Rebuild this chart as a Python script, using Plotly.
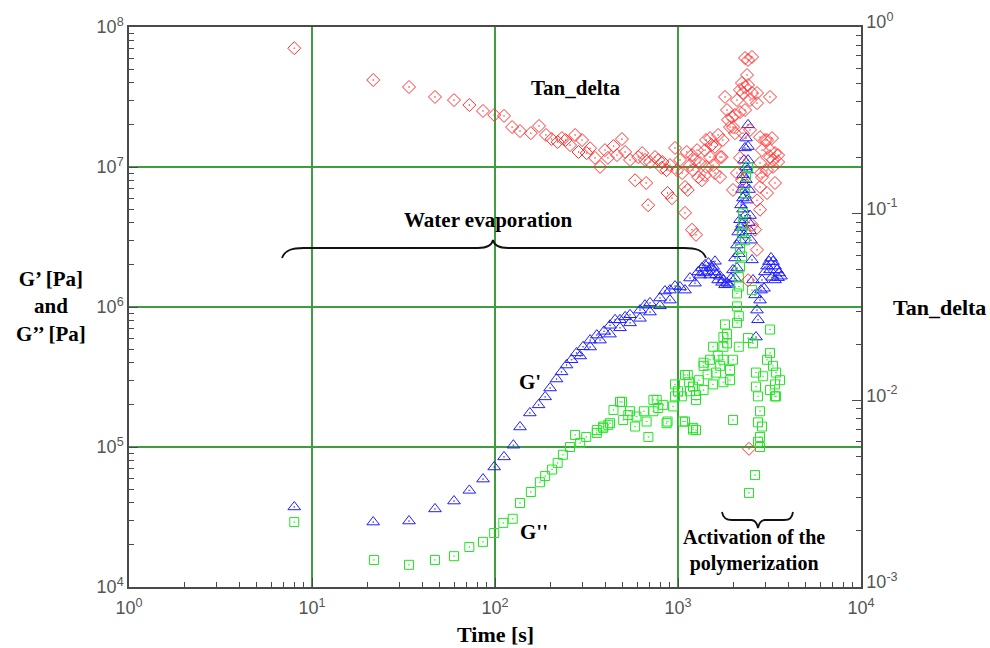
import plotly.graph_objects as go

# ---------------- data ----------------
tan_time = [8.0, 21.6, 33.9, 47, 59.7, 72.4, 86, 99, 112, 124, 137, 157, 174, 190, 204, 220, 232, 243, 257,
            274, 286, 299, 317, 331, 352, 375, 399, 414, 444, 464, 494, 514, 547, 583, 606, 637, 660, 670,
            687, 703, 749, 780, 815, 822, 866, 877, 904, 927, 963, 988, 1026, 1053, 1092, 1092, 1117, 1131,
            1163, 1193, 1193, 1208, 1239, 1254, 1271, 1289, 1319, 1351, 1405, 1405, 1423, 1423, 1496, 1496,
            1525, 1555, 1593, 1593, 1656, 1697, 1697, 1735, 1757, 1807, 1853, 1876, 1924, 1973, 1998, 1998,
            2049, 2049, 2101, 2101, 2182, 2182, 2182, 2237, 2237, 2266, 2266, 2324, 2324, 2324, 2383, 2414,
            2414, 2414, 2444, 2475, 2475, 2538, 2538, 2538, 2636, 2702, 2702, 2702, 2702, 2807, 2807, 2807,
            2807, 2842, 2878, 2878, 2989, 3065, 3065, 3065, 3183, 3183, 3183, 3264, 3305, 3305, 3390, 3390,
            3523, 3523]
tan_delta = [0.77, 0.52, 0.477, 0.422, 0.406, 0.382, 0.355, 0.338, 0.334, 0.291, 0.277, 0.270, 0.295, 0.264,
             0.251, 0.242, 0.254, 0.248, 0.233, 0.264, 0.214, 0.248, 0.211, 0.224, 0.199, 0.178, 0.219, 0.199,
             0.230, 0.206, 0.251, 0.214, 0.194, 0.151, 0.201, 0.211, 0.194, 0.146, 0.111, 0.189, 0.201, 0.194,
             0.176, 0.189, 0.171, 0.129, 0.182, 0.121, 0.225, 0.171, 0.194, 0.165, 0.139, 0.101, 0.214, 0.134,
             0.182, 0.082, 0.206, 0.171, 0.194, 0.077, 0.219, 0.157, 0.187, 0.151, 0.219, 0.161, 0.248, 0.178,
             0.201, 0.254, 0.233, 0.182, 0.228, 0.165, 0.264, 0.201, 0.157, 0.201, 0.248, 0.422, 0.359, 0.318,
             0.291, 0.329, 0.134, 0.291, 0.270, 0.338, 0.406, 0.165, 0.460, 0.199, 0.350, 0.501, 0.151, 0.443,
             0.270, 0.682, 0.359, 0.477, 0.553, 0.489, 0.044, 0.666, 0.0055, 0.406, 0.281, 0.691, 0.443, 0.087,
             0.082, 0.391, 0.118, 0.064, 0.443, 0.257, 0.187, 0.139, 0.105, 0.165, 0.219, 0.157, 0.248, 0.248,
             0.171, 0.129, 0.422, 0.201, 0.219, 0.254, 0.178, 0.194, 0.211, 0.146, 0.189, 0.206]

gp_time = [8.0, 21.6, 33.9, 47, 59.7, 72.4, 86, 99, 112, 126, 137, 155, 173, 188, 200, 217, 231, 246, 262, 279,
           292, 303, 331, 331, 360, 375, 394, 425, 425, 453, 482, 482, 514, 547, 547, 620, 620, 660, 703, 703,
           797, 797, 849, 904, 904, 963, 1026, 1092, 1163, 1239, 1289, 1319, 1351, 1380, 1405, 1450, 1466, 1496,
           1525, 1555, 1593, 1593, 1620, 1656, 1697, 1740, 1771, 1807, 1853, 1900, 1950, 1998, 2049, 2049, 2101,
           2101, 2132, 2150, 2182, 2182, 2209, 2209, 2237, 2237, 2266, 2266, 2266, 2295, 2295, 2295, 2324, 2324,
           2324, 2353, 2353, 2353, 2383, 2383, 2414, 2414, 2414, 2444, 2444, 2475, 2475, 2505, 2538, 2570, 2636,
           2669, 2702, 2736, 2807, 2842, 2878, 2952, 2989, 3065, 3143, 3183, 3224, 3264, 3305, 3390, 3390, 3477,
           3523, 3565, 3655]
gp_value = [3.73e4, 2.91e4, 2.96e4, 3.61e4, 4.11e4, 4.9e4, 5.9e4, 7.2e4, 8.5e4, 1.03e5, 1.39e5, 1.75e5, 2.0e5,
            2.28e5, 2.64e5, 3.06e5, 3.44e5, 3.85e5, 4.2e5, 4.7e5, 4.47e5, 5.2e5, 5.8e5, 5.18e5, 6.3e5, 5.8e5,
            6.7e5, 7.4e5, 6.4e5, 8.1e5, 8.1e5, 7.1e5, 8.5e5, 8.8e5, 7.7e5, 9.5e5, 8.3e5, 1.03e6, 1.07e6, 9.2e5,
            1.16e6, 1.02e6, 1.3e6, 1.32e6, 1.12e6, 1.41e6, 1.39e6, 1.32e6, 1.61e6, 1.48e6, 1.78e6, 1.69e6, 1.9e6,
            1.75e6, 2.0e6, 1.8e6, 2.06e6, 1.69e6, 1.9e6, 1.95e6, 1.78e6, 2.12e6, 1.7e6, 1.56e6, 1.66e6, 1.5e6,
            1.56e6, 1.44e6, 1.48e6, 1.45e6, 1.6e6, 1.84e6, 2.24e6, 1.6e6, 2.77e6, 1.9e6, 3.43e6, 2.4e6, 4.2e6,
            3.0e6, 5.36e6, 3.7e6, 6.9e6, 3.9e6, 8.8e6, 5.0e6, 6.0e6, 1.12e7, 3.27e6, 7.5e6, 1.37e7, 4.5e6, 6.3e6,
            1.61e7, 8.1e6, 1.0e7, 5.8e6, 9.5e6, 2.0e7, 1.12e7, 1.4e7, 6.9e6, 4.0e6, 4.5e6, 3.5e6, 3.0e6, 2.17e6,
            1.56e6, 1.22e6, 6.1e5, 9.5e5, 8.1e5, 1.12e6, 1.32e6, 1.56e6, 1.36e6, 1.78e6, 1.96e6, 2.11e6, 1.84e6,
            2.24e6, 1.63e6, 2.11e6, 1.96e6, 1.56e6, 1.84e6, 1.62e6, 1.75e6, 1.66e6]

gpp_time = [8.0, 21.8, 33.9, 47, 59.7, 72.4, 86, 99, 111, 125, 137, 157, 176, 188, 205, 220, 235, 257, 274, 292,
            315, 360, 360, 390, 390, 416, 425, 444, 482, 494, 502, 535, 547, 583, 593, 651, 674, 689, 734, 734,
            765, 780, 830, 866, 877, 941, 963, 963, 1000, 1050, 1066, 1092, 1092, 1131, 1150, 1163, 1208, 1208,
            1208, 1254, 1254, 1254, 1300, 1380, 1380, 1380, 1450, 1496, 1555, 1555, 1614, 1650, 1700, 1771, 1771,
            1771, 1771, 1807, 1853, 1853, 1924, 1924, 1998, 1998, 2101, 2101, 2101, 2150, 2150, 2150, 2150, 2182,
            2182, 2237, 2237, 2266, 2266, 2324, 2324, 2353, 2414, 2414, 2444, 2538, 2570, 2636, 2669, 2669, 2736,
            2736, 2736, 2807, 2807, 2807, 2878, 2920, 3065, 3183, 3183, 3183, 3305, 3390, 3390, 3436, 3436, 3610]
gpp_value = [2.91e4, 1.56e4, 1.44e4, 1.56e4, 1.66e4, 1.93e4, 2.1e4, 2.43e4, 2.87e4, 3.07e4, 3.98e4, 4.77e4,
             5.6e4, 6.2e4, 6.9e4, 7.7e4, 8.8e4, 1.0e5, 1.22e5, 1.07e5, 1.18e5, 1.26e5, 1.32e5, 1.37e5, 1.4e5,
             1.44e5, 1.48e5, 1.84e5, 2.1e5, 2.1e5, 1.56e5, 1.69e5, 1.8e5, 1.4e5, 1.65e5, 1.8e5, 1.52e5, 1.18e5,
             2.17e5, 1.8e5, 2.17e5, 1.9e5, 2.0e5, 1.48e5, 1.52e5, 1.95e5, 2.3e5, 2.8e5, 2.5e5, 2.3e5, 1.52e5,
             3.27e5, 1.52e5, 3.27e5, 2.9e5, 2.5e5, 2.7e5, 1.37e5, 1.33e5, 2.35e5, 2.17e5, 1.32e5, 3.0e5, 3.8e5,
             2.55e5, 4.0e5, 3.3e5, 4.2e5, 2.8e5, 5.2e5, 3.4e5, 4.5e5, 3.8e5, 5.2e5, 4.2e5, 2.9e5, 6.1e5, 7.5e5,
             6.4e5, 5.5e5, 3.55e5, 3.0e5, 4.2e5, 1.56e5, 1.01e6, 7.7e5, 1.25e6, 8.6e5, 5.2e5, 1.40e6, 1.64e6,
             1.94e6, 2.6e6, 2.3e6, 3.4e6, 3.9e6, 4.67e6, 3.0e6, 6.5e6, 8.5e6, 1.0e7, 6.0e5, 4.7e4, 1.32e6, 5.5e5,
             6.3e4, 3.4e5, 2.7e5, 2.3e5, 1.5e5, 1.09e5, 1.8e5, 1.18e5, 1.0e5, 1.4e5, 3.2e5, 4.2e5, 4.7e5, 2.55e5,
             6.9e5, 3.8e5, 2.8e5, 2.3e5, 3.4e5, 2.3e5, 3.0e5]

x_tickvals = [1, 10, 100, 1000, 10000]
x_ticktext = ["10<sup>0</sup>", "10<sup>1</sup>", "10<sup>2</sup>", "10<sup>3</sup>", "10<sup>4</sup>"]
y_tickvals = [1e4, 1e5, 1e6, 1e7, 1e8]
y_ticktext = ["10<sup>4</sup>", "10<sup>5</sup>", "10<sup>6</sup>", "10<sup>7</sup>", "10<sup>8</sup>"]
y2_tickvals = [1e-3, 1e-2, 1e-1, 1]
y2_ticktext = ["10<sup>-3</sup>", "10<sup>-2</sup>", "10<sup>-1</sup>", "10<sup>0</sup>"]

# ---------------- layout geometry ----------------
W, H = 990, 648
L, R, T, B = 129, 129, 27, 61
PW, PH = W - L - R, H - T - B

def paper(px, py):
    return (px - L) / PW, (T + PH - py) / PH

def path_from(points_cmds):
    out = []
    for cmd, pts in points_cmds:
        coords = " ".join("%.5f,%.5f" % paper(px, py) for px, py in pts)
        out.append(cmd + " " + coords)
    return " ".join(out)

GRID = "#3f9d3f"
AX = "#4a4a4a"
TICKFONT = dict(family="Liberation Sans, Arial, sans-serif", size=18, color="#555555")
SERIF = "Liberation Serif, Times New Roman, serif"

fig = go.Figure()
fig.add_trace(go.Scatter(x=tan_time, y=tan_delta, mode="markers", yaxis="y2", name="Tan_delta",
                         marker=dict(symbol="diamond-open-dot", size=10, color="#ff3030",
                                     line=dict(width=1, color="#ff3030"))))
fig.add_trace(go.Scatter(x=gp_time, y=gp_value, mode="markers", yaxis="y", name="G'",
                         marker=dict(symbol="triangle-up-open-dot", size=11, color="#1f1fff",
                                     line=dict(width=1, color="#1f1fff"))))
fig.add_trace(go.Scatter(x=gpp_time, y=gpp_value, mode="markers", yaxis="y", name="G''",
                         marker=dict(symbol="square-open-dot", size=9, color="#22e622",
                                     line=dict(width=1, color="#22e622"))))

axis_common = dict(type="log", ticks="inside", ticklen=9, tickcolor=AX, tickwidth=1,
                   showline=True, linecolor=AX, linewidth=1.5, zeroline=False,
                   tickfont=TICKFONT, tickmode="array", automargin=False,
                   minor=dict(ticks="inside", ticklen=5, tickcolor=AX, dtick="D1", showgrid=False))

fig.update_layout(
    width=W, height=H, margin=dict(l=L, r=R, t=T, b=B, autoexpand=False),
    paper_bgcolor="white", plot_bgcolor="white", showlegend=False,
    xaxis=dict(range=[0, 4], tickvals=x_tickvals, ticktext=x_ticktext, mirror=True,
               showgrid=True, gridcolor=GRID, gridwidth=1.5, ticklabelstandoff=4, **axis_common),
    yaxis=dict(range=[4, 8], tickvals=y_tickvals, ticktext=y_ticktext, side="left",
               showgrid=True, gridcolor=GRID, gridwidth=1.5, **axis_common),
    yaxis2=dict(range=[-3, 0], tickvals=y2_tickvals, ticktext=y2_ticktext, side="right",
                overlaying="y", showgrid=False, ticklabelshift=-5, **axis_common),
)

def ann(text, px, py, size=21):
    x, y = paper(px, py)
    fig.add_annotation(text=text, x=x, y=y, xref="paper", yref="paper", showarrow=False,
                       xanchor="center", yanchor="middle",
                       font=dict(family=SERIF, size=size, color="black"))

ann("<b>Time [s]</b>", 495, 634, 22)
ann("<b>G’ [Pa]<br>and<br>G’’ [Pa]</b>", 51, 306, 21)
ann("<b>Tan_delta</b>", 939, 307, 22)
ann("<b>Tan_delta</b>", 576, 88)
ann("<b>Water evaporation</b>", 488, 220)
ann("<b>G'</b>", 530, 382)
ann("<b>G''</b>", 534, 532)
ann("<b>Activation of the<br>polymerization</b>", 754, 550, 20)

water_brace = path_from([
    ("M", [(282, 258)]),
    ("C", [(285, 250), (292, 248), (304, 248)]),
    ("L", [(478, 248)]),
    ("C", [(487, 248), (492, 245), (493, 240)]),
    ("C", [(494, 245), (499, 248), (508, 248)]),
    ("L", [(684, 248)]),
    ("C", [(696, 248), (703, 250), (706, 258)]),
])
act_brace = path_from([
    ("M", [(722, 512)]),
    ("C", [(723, 518), (726, 520), (732, 520)]),
    ("L", [(751, 520)]),
    ("C", [(755, 520), (757, 523), (758, 528)]),
    ("C", [(759, 523), (761, 520), (765, 520)]),
    ("L", [(784, 520)]),
    ("C", [(790, 520), (792, 518), (793, 512)]),
])
for p in (water_brace, act_brace):
    fig.add_shape(type="path", path=p, xref="paper", yref="paper",
                  line=dict(color="#111111", width=1.8))

fig.write_html("out.html", config={"displayModeBar": False},
               post_script="document.body.style.margin='0';document.body.style.overflow='hidden';")
